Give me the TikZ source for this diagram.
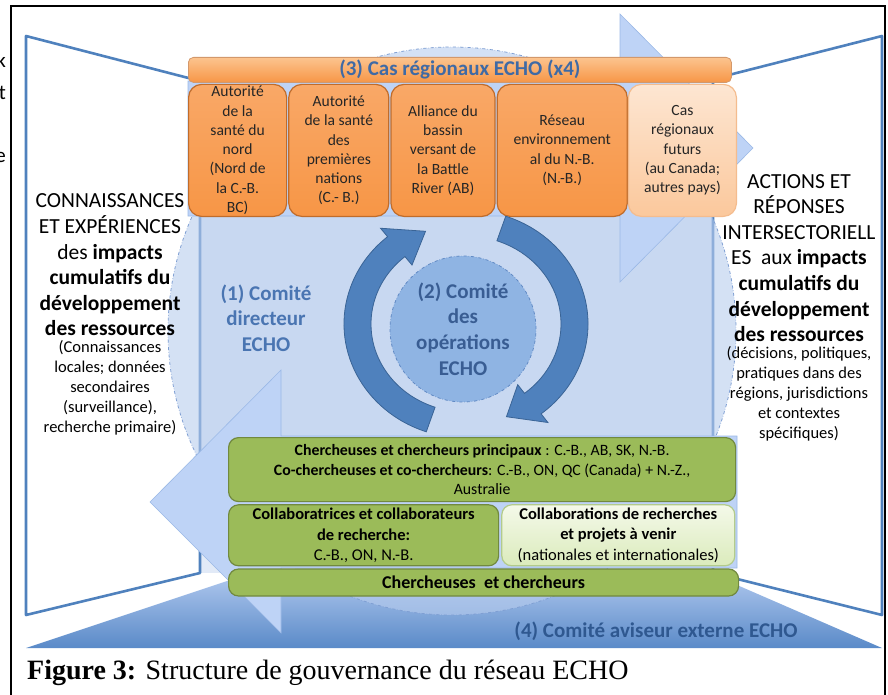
\documentclass[tikz,border=0pt]{standalone}
\usepackage{fontspec}
\setmainfont{Carlito}
\newfontfamily\capfont{Liberation Serif}
\usepackage{tikz}
\usetikzlibrary{positioning}

\definecolor{wallblue}{HTML}{4F81BD}
\definecolor{wallback}{HTML}{E2EAF7}
\definecolor{ringfill}{HTML}{B8CDEE}
\definecolor{ringedge}{HTML}{7F9FD3}
\definecolor{arrowfill}{HTML}{BED3F6}
\definecolor{arrowedge}{HTML}{9BB9E6}
\definecolor{floortop}{HTML}{A9C3EB}
\definecolor{floorbot}{HTML}{5A8AC8}
\definecolor{cycblue}{HTML}{4F81BD}
\definecolor{cycedge}{HTML}{3A6496}
\definecolor{opsfill}{HTML}{8FB4E3}
\definecolor{opsedge}{HTML}{6089C4}
\definecolor{titleblue}{HTML}{3F6AA5}
\definecolor{steerblue}{HTML}{4A75B2}
\definecolor{opsblue}{HTML}{395D93}
\definecolor{advblue}{HTML}{2F5890}
\definecolor{casorange}{HTML}{F79646}
\definecolor{castop}{HTML}{F9A867}
\definecolor{casedge}{HTML}{C06C2B}
\definecolor{bartop}{HTML}{FCC48F}
\definecolor{futuretop}{HTML}{FDE6D2}
\definecolor{futurebot}{HTML}{FBC89C}
\definecolor{futureedge}{HTML}{F4BC8E}
\definecolor{leadgreen}{HTML}{9BBB59}
\definecolor{greenedge}{HTML}{71893F}
\definecolor{palegreentop}{HTML}{F4F9E9}
\definecolor{palegreenbot}{HTML}{DBEBBC}
\definecolor{paleedge}{HTML}{B3CB8B}

\begin{document}
\begin{tikzpicture}[x=1pt,y=-1pt,
	wall/.style={draw=wallblue,line width=2.6pt,line join=round,fill=white},
	bigarrow/.style={draw=arrowedge,line width=0.6pt,fill=arrowfill},
	cycarrow/.style={draw=cycedge,line width=0.8pt,fill=cycblue},
	walltext/.style={align=center,inner sep=0pt,text=black},
	casbox/.style={draw=casedge,line width=1.2pt,rounded corners=13pt,top color=castop,bottom color=casorange,minimum height=132pt,inner sep=1pt,align=center,text=black!85,font=\fontsize{15.6}{19.3}\selectfont},
	groupbox/.style={draw=greenedge,line width=1.2pt,rounded corners=10pt,fill=leadgreen,align=center,inner sep=1pt,font=\fontsize{16.5}{20.2}\selectfont},
	comite/.style={align=center,font=\bfseries\fontsize{21}{25.6}\selectfont}]

	\useasboundingbox (0,0) rectangle (888,695);

	% walls and floor
	\fill[wallback] (200,81) rectangle (713,573);
	\draw[wall] (26,36) -- (200,81) -- (200,573) -- (26,615) -- cycle;
	\draw[wall] (882,36) -- (713,79) -- (713,573) -- (882,615) -- cycle;
	\shade[top color=floortop,bottom color=floorbot] (26,648) -- (230,580) -- (737,585) -- (882,648) -- cycle;

	\draw[draw=ringedge,dash dot,line width=0.8pt,fill=ringfill,fill opacity=0.6] (452,331) circle[radius=284];

	% big arrows
	\draw[bigarrow] (188,81) -- (620,81) -- (620,14) -- (753,148) -- (620,282) -- (620,216) -- (188,216) -- cycle;
	\draw[bigarrow] (737,436) -- (281,436) -- (281,370) -- (150,502) -- (281,633) -- (281,568) -- (737,568) -- cycle;

	\node[walltext,font=\fontsize{21.5}{25.6}\selectfont] (knowhead) at (110,265)
		{CONNAISSANCES\\ET EXPÉRIENCES\\des \textbf{impacts}\\\textbf{cumulatifs du}\\\textbf{développement}\\\textbf{des ressources}};
	\node[walltext,font=\fontsize{16.5}{20}\selectfont,below=4pt of knowhead] (knownote)
		{(Connaissances\\locales; données\\secondaires\\(surveillance),\\recherche primaire)};
	\node[walltext,font=\fontsize{21.5}{25.6}\selectfont] (acthead) at (799,258)
		{ACTIONS ET\\RÉPONSES\\INTERSECTORIELL\\ES\ \ aux \textbf{impacts}\\\textbf{cumulatifs du}\\\textbf{développement}\\\textbf{des ressources}};
	\node[walltext,font=\fontsize{16.5}{20}\selectfont,below=4pt of acthead] (actnote)
		{(décisions, politiques,\\pratiques dans des\\régions, jurisdictions\\et contextes\\spécifiques)};

	% regional cases
	\node[draw=casedge!70,line width=0.8pt,rounded corners=5pt,top color=bartop,bottom color=casorange,minimum width=543pt,minimum height=25pt,anchor=north west,inner sep=0pt,text=titleblue,font=\bfseries\fontsize{21}{24}\selectfont] (bar) at (188,57) {(3) Cas régionaux ECHO (x4)};
	\node[casbox,minimum width=98pt,below=1pt of bar.south west,anchor=north west] (cas1) {Autorité\\de la\\santé du\\nord\\(Nord de\\la C.-B.\\BC)};
	\node[casbox,minimum width=100pt,right=1pt of cas1] (cas2) {Autorité\\de la santé\\des\\premières\\nations\\(C.- B.)};
	\node[casbox,minimum width=104pt,right=1pt of cas2] (cas3) {Alliance du\\bassin\\versant de\\la Battle\\River (AB)};
	\node[casbox,minimum width=130pt,right=1pt of cas3] (cas4) {Réseau\\environnement\\al du N.-B.\\(N.-B.)};
	\node[casbox,minimum width=108pt,right=0pt of cas4,draw=futureedge,top color=futuretop,bottom color=futurebot] (cas5) {Cas\\régionaux\\futurs\\(au Canada;\\autres pays)};

	% researchers
	\node[groupbox,minimum width=507pt,minimum height=64pt,anchor=north west,font=\fontsize{15.8}{19.6}\selectfont] (lead) at (228,437)
		{\textbf{Chercheuses et chercheurs principaux} : C.-B., AB, SK, N.-B.\\\textbf{Co-chercheuses et co-chercheurs}: C.-B., ON, QC (Canada) + N.-Z.,\\Australie};
	\node[groupbox,minimum width=270pt,minimum height=61pt,below=2pt of lead.south west,anchor=north west] (collab)
		{\textbf{Collaboratrices et collaborateurs}\\\textbf{de recherche:}\\C.-B., ON, N.-B.};
	\node[groupbox,minimum width=233pt,minimum height=61pt,right=2pt of collab,draw=paleedge,top color=palegreentop,bottom color=palegreenbot] (future)
		{\textbf{Collaborations de recherches}\\\textbf{et projets à venir}\\(nationales et internationales)};
	\node[groupbox,minimum width=510pt,minimum height=27pt,below=2pt of collab.south west,anchor=north west,font=\fontsize{18}{20}\selectfont] (members)
		{\textbf{Chercheuses\ \ et chercheurs}};

	% operations cycle
	\coordinate (hub) at (466,324);
	\draw[cycarrow] ([shift={(109:122 and 114)}]hub) arc[start angle=109,end angle=230,x radius=122,y radius=114]
		-- ([shift={(230:133 and 125)}]hub) -- ([shift={(248:108 and 100)}]hub) -- ([shift={(230:84 and 77)}]hub)
		-- ([shift={(230:95 and 88)}]hub) arc[start angle=230,end angle=109,x radius=95,y radius=88] -- cycle;
	\draw[cycarrow] ([shift={(-71:122 and 114)}]hub) arc[start angle=-71,end angle=52,x radius=122,y radius=114]
		-- ([shift={(52:133 and 125)}]hub) -- ([shift={(68:108 and 100)}]hub) -- ([shift={(52:84 and 77)}]hub)
		-- ([shift={(52:95 and 88)}]hub) arc[start angle=52,end angle=-71,x radius=95,y radius=88] -- cycle;
	\node[circle,draw=opsedge,dash dot,line width=0.8pt,fill=opsfill,minimum size=146pt,inner sep=0pt,comite,text=opsblue] (ops) at (463,329)
		{(2) Comité\\des\\opérations\\ECHO};
	\node[comite,text=steerblue] (steer) at (266,318) {(1) Comité\\directeur\\ECHO};
	\node[comite,text=advblue] (advise) at (656,631) {(4) Comité aviseur externe ECHO};

	% frame, caption and cut text
	\draw[line width=1.6pt] (11,695) -- (11,6) -- (885,6) -- (885,695);
	\node[anchor=base west,inner sep=0pt,font=\capfont\fontsize{28}{30}\selectfont] (caption) at (27,679)
		{\textbf{Figure 3:} Structure de gouvernance du réseau ECHO};
	\node[anchor=base east,inner sep=0pt,font=\fontsize{21}{24}\selectfont] (cutk) at (6,68) {k};
	\node[anchor=base east,inner sep=0pt,font=\fontsize{21}{24}\selectfont] (cutt) at (6,100) {t};
	\node[anchor=base east,inner sep=0pt,font=\fontsize{21}{24}\selectfont] (cute) at (6,163) {e};
\end{tikzpicture}
\end{document}
